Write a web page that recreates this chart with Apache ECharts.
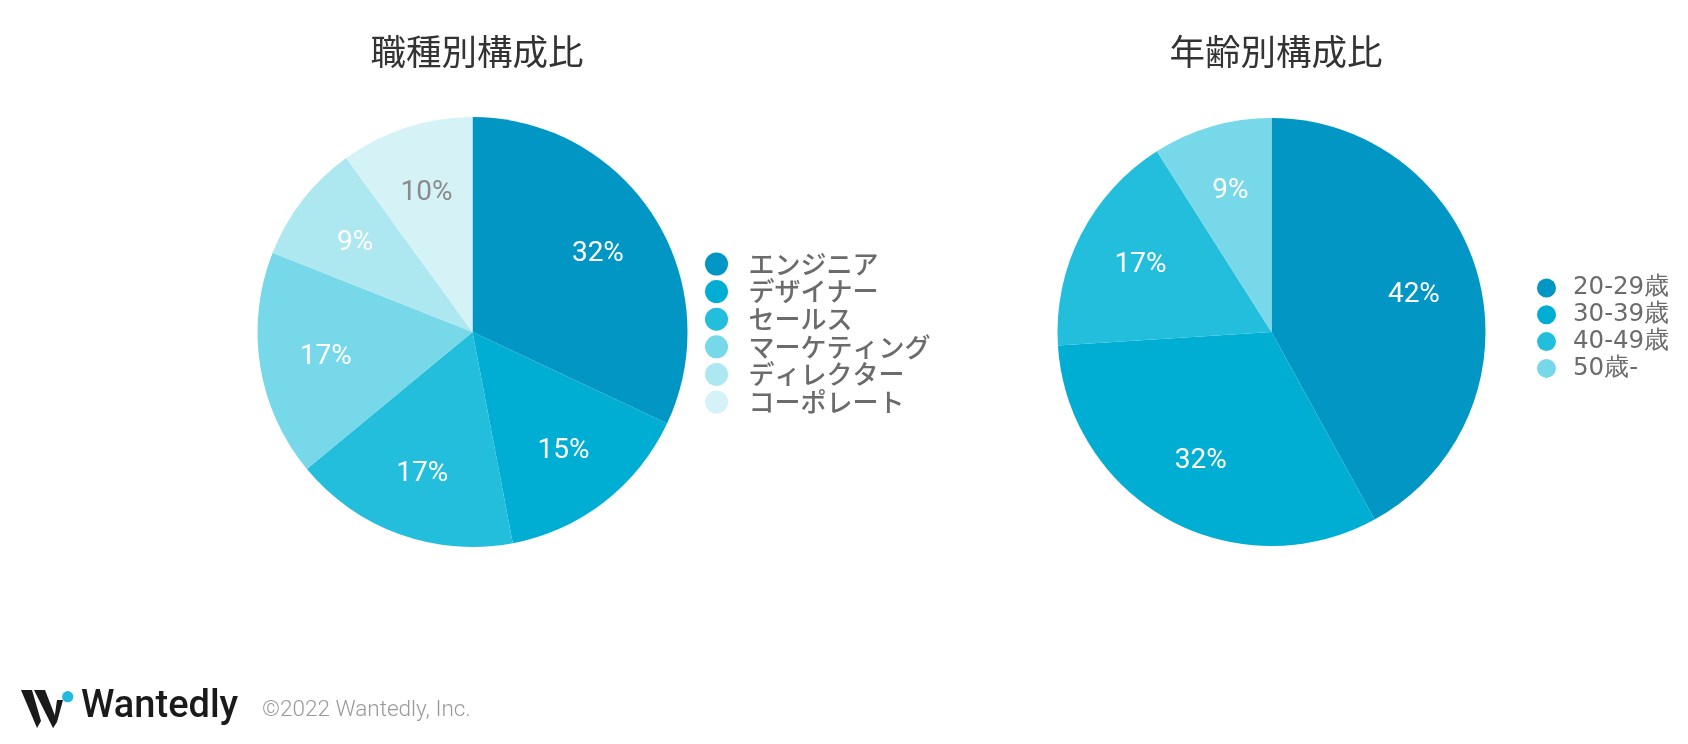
<!DOCTYPE html>
<html>
<head>
<meta charset="utf-8">
<script src="https://cdn.jsdelivr.net/npm/echarts@6/dist/echarts.min.js"></script>
<style>
html,body{margin:0;padding:0;background:#fff;}
#c{width:1688px;height:744px;}
</style>
</head>
<body>
<div id="c"></div>
<script>
const jobTitle = '職種別構成比';
const jobCategories = ['エンジニア','デザイナー','セールス','マーケティング','ディレクター','コーポレート'];
const jobValues = [32, 15, 17, 17, 9, 10];
const ageTitle = '年齢別構成比';
const ageCategories = ['20-29歳','30-39歳','40-49歳','50歳-'];
const ageValues = [42, 32, 17, 9];
const palette = ['#0196c4','#00aed3','#23bedc','#76d8e8','#ade7f0','#d5f2f7'];
const labelColors = ['#ffffff','#ffffff','#ffffff','#ffffff','#ffffff','#8a8a8a'];

const chart = echarts.init(document.getElementById('c'));

function mkData(cats, vals) {
  return cats.map((n, i) => ({ name: n, value: vals[i], itemStyle: { color: palette[i] } }));
}
function mkLabelData(cats, vals) {
  return cats.map((n, i) => ({ name: n, value: vals[i],
    itemStyle: { color: 'rgba(0,0,0,0)' },
    label: { color: labelColors[i] } }));
}

const labelFont = { fontFamily: 'Roboto', fontSize: 28, fontWeight: 'normal' };

chart.setOption({
  animation: false,
  title: [
    { text: jobTitle, left: 472, top: 47, textAlign: 'center', textVerticalAlign: 'middle',
      textStyle: { fontFamily: 'Noto Sans CJK JP', fontSize: 35.5, fontWeight: 'normal', color: '#333333' } },
    { text: ageTitle, left: 1271, top: 47, textAlign: 'center', textVerticalAlign: 'middle',
      textStyle: { fontFamily: 'Noto Sans CJK JP', fontSize: 35.5, fontWeight: 'normal', color: '#333333' } }
  ],
  legend: [
    { seriesIndex: 0, data: jobCategories, orient: 'vertical', left: 700, top: 246,
      icon: 'circle', itemWidth: 54, itemHeight: 23, itemGap: 1.6, selectedMode: false,
      textStyle: { fontFamily: 'Noto Sans CJK JP', fontSize: 26, fontWeight: 500, lineHeight: 24, color: '#6b6b6b' } },
    { data: ageCategories, orient: 'vertical', left: 1532, top: 270.5,
      icon: 'circle', itemWidth: 43, itemHeight: 19, itemGap: 1.8, selectedMode: false,
      textStyle: { fontFamily: 'DejaVu Sans', fontSize: 24.5, lineHeight: 24, color: '#6b6b6b' } }
  ],
  series: [
    { type: 'pie', center: [472.5, 332], radius: 215, startAngle: 90, clockwise: true,
      label: { show: false }, labelLine: { show: false }, silent: true,
      data: mkData(jobCategories, jobValues) },
    { type: 'pie', center: [472.5, 334], radius: [76, 215], startAngle: 90, clockwise: true,
      silent: true, legendHoverLink: false,
      label: Object.assign({ show: true, position: 'inside', formatter: '{c}%' }, labelFont),
      labelLine: { show: false },
      data: mkLabelData(jobCategories, jobValues) },
    { type: 'pie', center: [1271.5, 332], radius: 214, startAngle: 90, clockwise: true,
      label: { show: false }, labelLine: { show: false }, silent: true,
      data: mkData(ageCategories, ageValues) },
    { type: 'pie', center: [1271.5, 332], radius: [74, 214], startAngle: 90, clockwise: true,
      silent: true, legendHoverLink: false,
      label: Object.assign({ show: true, position: 'inside', formatter: '{c}%', color: '#ffffff' }, labelFont),
      labelLine: { show: false },
      data: ageCategories.map((n, i) => ({ name: n, value: ageValues[i], itemStyle: { color: 'rgba(0,0,0,0)' } })) }
  ],
  graphic: [
    { type: 'polygon', shape: { points: [[21,690],[32,690],[41,721],[37,728]] }, style: { fill: '#1a1a1a' } },
    { type: 'polygon', shape: { points: [[34,690],[45,690],[57,721],[53,728]] }, style: { fill: '#1a1a1a' } },
    { type: 'polygon', shape: { points: [[53,728],[57,700],[63,700],[57,722]] }, style: { fill: '#1a1a1a' } },
    { type: 'circle', shape: { cx: 67.7, cy: 696.7, r: 5.6 }, style: { fill: '#22bbe0' } },
    { type: 'text', left: 81, top: 688, style: { text: 'Wantedly', fontFamily: 'Roboto', fontSize: 38, fontWeight: 500, fill: '#1a1a1a' } },
    { type: 'text', left: 262, top: 699, style: { text: '©2022 Wantedly, Inc.', fontFamily: 'Roboto', fontSize: 22.5, fontWeight: 300, fill: '#999999' } }
  ]
});
</script>
</body>
</html>
